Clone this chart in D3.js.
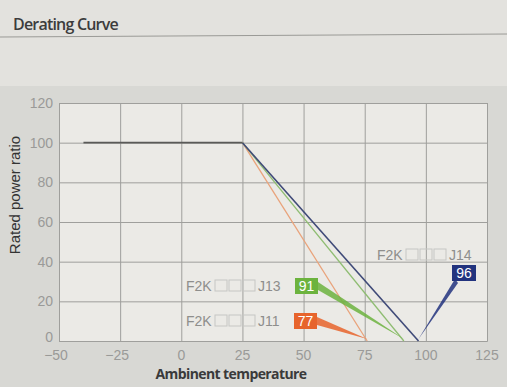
<!DOCTYPE html>
<html>
<head>
<meta charset="utf-8">
<script src="https://cdn.jsdelivr.net/npm/d3@7"></script>
<style>
  body { margin:0; background:#d9d9d5; }
  svg { display:block; }
  .tick-lbl { font-family:"Liberation Sans", Arial, sans-serif; font-size:14px; fill:#9a9a98; }
  .ann { font-family:"Liberation Sans", Arial, sans-serif; font-size:14px; fill:#8e8e8c; }
</style>
</head>
<body>
<svg id="chart" width="507" height="387"></svg>
<script>
var xTicks = [-50, -25, 0, 25, 50, 75, 100, 125];
var yTicks = [0, 20, 40, 60, 80, 100, 120];
var flatPart = [{t: -40, p: 100}, {t: 25, p: 100}];
var models = ["J11", "J13", "J14"];
var endTemps = [76, 91, 97];
var endLabels = ["77", "91", "96"];
var lineColors = ["#e9a37b", "#8fbd72", "#3f4a78"];
var boxColors = ["#e7642c", "#6cb33e", "#22337e"];

var svg = d3.select("#chart");
var W = 507, H = 387;

// photo-ish backdrop
svg.append("rect").attr("width", W).attr("height", 86).attr("fill", "#e3e2de");
svg.append("rect").attr("y", 86).attr("width", W).attr("height", H - 86).attr("fill", "#d8d8d4");
svg.append("line").attr("x1", 0).attr("x2", W).attr("y1", 37).attr("y2", 34)
   .attr("stroke", "#9a9a96").attr("stroke-width", 1);
svg.append("text").attr("x", 13).attr("y", 30).text("Derating Curve")
   .style("font-family", "'Open Sans', sans-serif").style("font-weight", 600)
   .style("font-size", "16px").style("letter-spacing", "-0.8px").attr("fill", "#3c3c3c");

var x = d3.scaleLinear().domain([-50, 125]).range([59, 487]);
var y = d3.scaleLinear().domain([0, 120]).range([341, 103]);

svg.append("rect").attr("x", x(-50)).attr("y", y(120))
   .attr("width", x(125) - x(-50)).attr("height", y(0) - y(120)).attr("fill", "#ebeae6");

// grid
var grid = svg.append("g");
grid.append("g").attr("transform", "translate(0," + y(0) + ")")
    .call(d3.axisBottom(x).tickValues(xTicks).tickSize(-(y(0) - y(120))).tickFormat(""));
grid.append("g").attr("transform", "translate(" + x(-50) + ",0)")
    .call(d3.axisLeft(y).tickValues(yTicks).tickSize(-(x(125) - x(-50))).tickFormat(""));
grid.selectAll("line").attr("stroke", "#9f9f9c");
grid.selectAll(".domain").attr("stroke", "#9f9f9c");

// tick labels
svg.selectAll(".ylab").data(yTicks).enter().append("text")
   .attr("class", "tick-lbl").attr("x", 53).attr("y", function(d){ return y(d) + (d == 0 ? 1 : 5); })
   .attr("text-anchor", "end").text(function(d){ return d; });
svg.selectAll(".xlab").data(xTicks).enter().append("text")
   .attr("class", "tick-lbl").attr("x", function(d){ return x(d) + (d < 0 ? -3 : 0); })
   .attr("y", 360).attr("text-anchor", "middle")
   .text(function(d){ return d < 0 ? "\u2212" + Math.abs(d) : d; });

svg.append("text").attr("transform", "translate(20,195) rotate(-90)")
   .attr("text-anchor", "middle").text("Rated power ratio")
   .style("font-family", "'Liberation Sans', Arial, sans-serif").style("font-size", "15px")
   .attr("fill", "#333");
svg.append("text").attr("x", 231).attr("y", 379).attr("text-anchor", "middle")
   .text("Ambinent temperature")
   .style("font-family", "'Open Sans', sans-serif").style("font-weight", 700)
   .style("font-size", "14px").style("letter-spacing", "-0.6px").attr("fill", "#3a3a3a");

// curves
var line = d3.line().x(function(d){ return x(d.t); }).y(function(d){ return y(d.p); });
models.forEach(function(m, i){
  svg.append("path").attr("d", line([{t: 25, p: 100}, {t: endTemps[i], p: 0}]))
     .attr("fill", "none").attr("stroke", lineColors[i]).attr("stroke-width", i == 2 ? 1.6 : 1.3);
});
svg.append("path").attr("d", line(flatPart)).attr("fill", "none")
   .attr("stroke", "#5a5a58").attr("stroke-width", 1.6);

// annotations: label text, value box, pointer
var annPos = [
  {tx: 186, ty: 326, bx: 294, by: 313, bw: 23},
  {tx: 186, ty: 291, bx: 295, by: 278, bw: 23},
  {tx: 377, ty: 260, bx: 452, by: 265, bw: 24}
];
models.forEach(function(m, i){
  var a = annPos[i];
  var g = svg.append("g");
  g.append("text").attr("class", "ann").attr("x", a.tx).attr("y", a.ty).text("F2K");
  for (var k = 0; k < 3; k++) {
    g.append("rect").attr("x", a.tx + 29 + k * 14).attr("y", a.ty - 11)
     .attr("width", 12).attr("height", 11).attr("fill", "none")
     .attr("stroke", "#c6c6c3").attr("stroke-width", 1);
  }
  g.append("text").attr("class", "ann").attr("x", a.tx + 72).attr("y", a.ty).text(m);
  var ex = x(endTemps[i]), ey = y(0) - 2;
  var cx = i == 2 ? a.bx + 3 : a.bx + a.bw, cy = i == 2 ? a.by + 16 : a.by + 8;
  var wid = i == 2 ? 2 : 4;
  g.append("path")
   .attr("d", "M" + ex + "," + ey + "L" + cx + "," + (cy - wid) + "L" + (cx + (i == 2 ? 3 : 0)) + "," + (cy + wid) + "Z")
   .attr("fill", boxColors[i]).attr("opacity", 0.85);
  g.append("rect").attr("x", a.bx).attr("y", a.by).attr("width", a.bw).attr("height", 16)
   .attr("fill", boxColors[i]);
  g.append("text").attr("x", a.bx + a.bw / 2).attr("y", a.by + 13).attr("text-anchor", "middle")
   .text(endLabels[i]).style("font-family", "'Liberation Sans', Arial, sans-serif")
   .style("font-size", "14px").attr("fill", "#fff");
});
</script>
</body>
</html>
